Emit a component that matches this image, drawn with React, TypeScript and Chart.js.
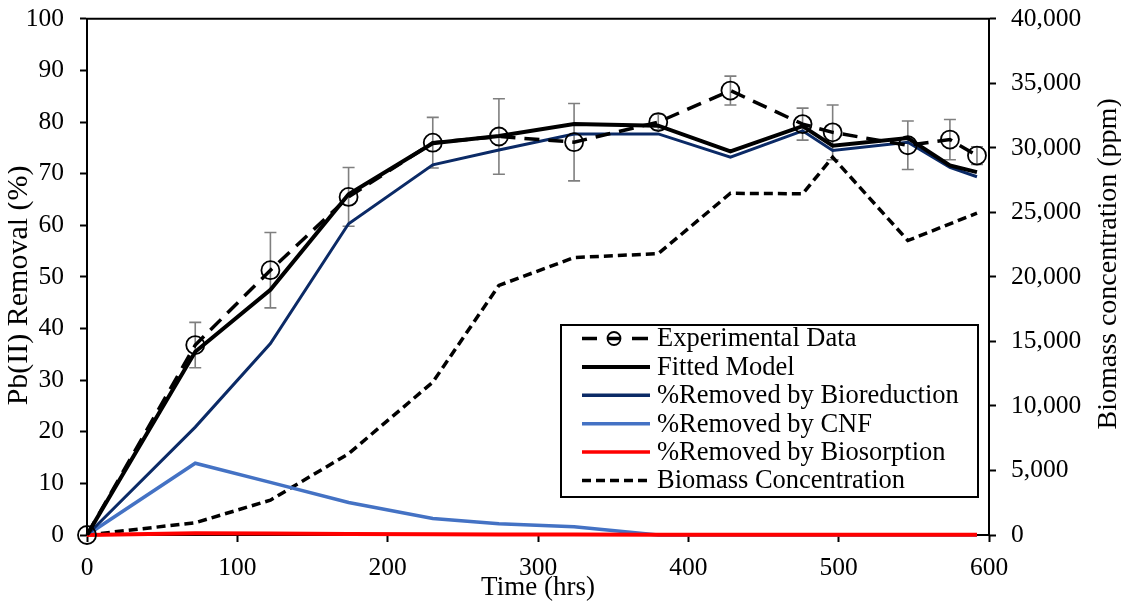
import React, { useEffect, useRef } from "react";
import { Chart, registerables } from "chart.js";

Chart.register(...registerables);

// ---- data ----
const times = [0, 72, 122, 174, 230, 274, 324, 380, 428, 476, 496, 546, 574, 592];
const experimental = [0, 36.8, 51.3, 65.5, 76.0, 77.2, 76.1, 80.0, 86.1, 79.6, 78.0, 75.5, 76.6, 73.5];
const experimentalError = [0, 4.4, 7.3, 5.7, 4.9, 7.3, 7.5, 1.5, 2.8, 3.1, 5.3, 4.7, 3.9, 1.7];
const fittedModel = [0, 35.5, 47.5, 66.0, 75.9, 77.3, 79.6, 79.3, 74.3, 79.2, 75.4, 76.9, 71.6, 70.3];
const bioreduction = [0, 20.9, 37.1, 60.3, 71.7, 74.6, 77.7, 77.7, 73.2, 78.3, 74.5, 76.1, 71.2, 69.4];
const cnf = [0, 13.9, 10.2, 6.3, 3.2, 2.2, 1.6, 0, 0, 0, 0, 0, 0, 0];
const biosorption = [0, 0.35, 0.3, 0.2, 0.15, 0.1, 0.1, 0.05, 0.05, 0.05, 0.05, 0.05, 0.05, 0.05];
const biomassTimes = [0, 72, 122, 174, 230, 274, 324, 380, 428, 476, 496, 546, 592];
const biomass = [0, 950, 2700, 6300, 11840, 19340, 21500, 21800, 26480, 26440, 29270, 22820, 24940];

const legendLabels = [
  "Experimental Data",
  "Fitted Model",
  "%Removed by Bioreduction",
  "%Removed by CNF",
  "%Removed by Biosorption",
  "Biomass Concentration",
];
const xTitle = "Time (hrs)";
const yTitle = "Pb(II) Removal (%)";
const y1Title = "Biomass concentration (ppm)";

const FONT_FAMILY = '"Liberation Serif", "Times New Roman", serif';
const NAVY = "#0B2A66";
const LIGHT_BLUE = "#4472C4";
const RED = "#FF0000";

const pts = (xs: number[], ys: number[]) => xs.map((x, i) => ({ x, y: ys[i] }));

const errorBarPlugin = {
  id: "errorBars",
  beforeDatasetsDraw(chart: any) {
    const { ctx } = chart;
    const xs = chart.scales.x;
    const ys = chart.scales.y;
    ctx.save();
    ctx.strokeStyle = "#7F7F7F";
    ctx.lineWidth = 1.6;
    times.forEach((t, i) => {
      const e = experimentalError[i];
      if (!e) return;
      const x = xs.getPixelForValue(t);
      const yt = ys.getPixelForValue(experimental[i] + e);
      const yb = ys.getPixelForValue(experimental[i] - e);
      ctx.beginPath();
      ctx.moveTo(x, yt);
      ctx.lineTo(x, yb);
      ctx.moveTo(x - 6, yt);
      ctx.lineTo(x + 6, yt);
      ctx.moveTo(x - 6, yb);
      ctx.lineTo(x + 6, yb);
      ctx.stroke();
    });
    ctx.restore();
  },
};

const framePlugin = {
  id: "frame",
  afterDraw(chart: any) {
    const { ctx, chartArea } = chart;
    ctx.save();
    // top border
    ctx.strokeStyle = "#000";
    ctx.lineWidth = 2;
    ctx.beginPath();
    ctx.moveTo(chartArea.left - 1, chartArea.top);
    ctx.lineTo(chartArea.right + 1, chartArea.top);
    ctx.stroke();

    // vertical axis titles (both read bottom-to-top)
    ctx.fillStyle = "#000";
    ctx.textAlign = "center";
    ctx.textBaseline = "middle";
    const cy = (chartArea.top + chartArea.bottom) / 2;
    ctx.save();
    ctx.font = `30px ${FONT_FAMILY}`;
    ctx.translate(11, cy + 8.5);
    ctx.rotate(-Math.PI / 2);
    ctx.fillText(yTitle, 0, 0);
    ctx.restore();
    ctx.save();
    ctx.font = `28px ${FONT_FAMILY}`;
    ctx.translate(chart.width - 12.5, cy - 13);
    ctx.rotate(-Math.PI / 2);
    ctx.fillText(y1Title, 0, 0);
    ctx.restore();

    // legend
    const right = chartArea.right - 11;
    const bottom = chartArea.bottom - 38;
    const left = right - 417;
    const top = bottom - 172;
    ctx.fillStyle = "#fff";
    ctx.fillRect(left, top, right - left, bottom - top);
    ctx.strokeStyle = "#000";
    ctx.lineWidth = 2;
    ctx.strokeRect(left, top, right - left, bottom - top);

    const lx0 = left + 21;
    const lx1 = left + 89;
    const tx = left + 96;
    const step = 28.4;
    const y0 = top + 13.5;
    ctx.font = `26.5px ${FONT_FAMILY}`;
    ctx.textAlign = "left";
    ctx.textBaseline = "middle";
    legendLabels.forEach((label, i) => {
      const y = y0 + i * step;
      ctx.save();
      ctx.lineCap = "butt";
      if (i === 0) {
        ctx.strokeStyle = "#000";
        ctx.lineWidth = 3.5;
        ctx.beginPath();
        ctx.moveTo(lx0, y);
        ctx.lineTo(lx0 + 15, y);
        ctx.moveTo(lx0 + 26, y);
        ctx.lineTo(lx0 + 38, y);
        ctx.moveTo(lx0 + 50, y);
        ctx.lineTo(lx1 - 2, y);
        ctx.stroke();
        ctx.lineWidth = 1.8;
        ctx.beginPath();
        ctx.arc(lx0 + 32, y, 6.5, 0, Math.PI * 2);
        ctx.stroke();
      } else {
        const colors = ["", "#000", NAVY, LIGHT_BLUE, RED, "#000"];
        ctx.strokeStyle = colors[i];
        ctx.lineWidth = i === 1 ? 4 : 3.5;
        if (i === 5) ctx.setLineDash([9, 5]);
        ctx.beginPath();
        ctx.moveTo(lx0, y);
        ctx.lineTo(lx1, y);
        ctx.stroke();
      }
      ctx.restore();
      ctx.fillStyle = "#000";
      ctx.fillText(label, tx, y + 1);
    });
    ctx.restore();
  },
};

export default function App() {
  const canvasRef = useRef<HTMLCanvasElement | null>(null);

  useEffect(() => {
    if (!canvasRef.current) return;
    const tickFont = { family: FONT_FAMILY, size: 25.5, lineHeight: 0.8 };
    const gridCommon = {
      display: true,
      drawOnChartArea: false,
      drawTicks: true,
      tickLength: 7,
      tickColor: "#000",
      tickWidth: 2,
    };
    const borderCommon = { display: true, color: "#000", width: 2 };
    const fitVertical = (w: number) => (s: any) => {
      s.width = w;
      s.paddingTop = 0;
      s.paddingBottom = 0;
    };

    const chart = new Chart(canvasRef.current, {
      type: "line",
      data: {
        datasets: [
          {
            label: legendLabels[0],
            data: pts(times, experimental),
            yAxisID: "y",
            borderColor: "#000",
            borderWidth: 3.5,
            borderDash: [15, 9],
            pointRadius: 9,
            pointBorderWidth: 1.8,
            pointBorderColor: "#000",
            pointBackgroundColor: "rgba(0,0,0,0)",
            clip: false,
            order: 0,
          },
          {
            label: legendLabels[1],
            data: pts(times, fittedModel),
            yAxisID: "y",
            borderColor: "#000",
            borderWidth: 4,
            pointRadius: 0,
            order: 1,
          },
          {
            label: legendLabels[2],
            data: pts(times, bioreduction),
            yAxisID: "y",
            borderColor: NAVY,
            borderWidth: 3,
            pointRadius: 0,
            order: 2,
          },
          {
            label: legendLabels[3],
            data: pts(times, cnf),
            yAxisID: "y",
            borderColor: LIGHT_BLUE,
            borderWidth: 3.5,
            pointRadius: 0,
            clip: false,
            order: 4,
          },
          {
            label: legendLabels[4],
            data: pts(times, biosorption),
            yAxisID: "y",
            borderColor: RED,
            borderWidth: 4,
            pointRadius: 0,
            clip: false,
            order: 3,
          },
          {
            label: legendLabels[5],
            data: pts(biomassTimes, biomass),
            yAxisID: "y1",
            borderColor: "#000",
            borderWidth: 3.5,
            borderDash: [9, 5],
            pointRadius: 0,
            order: 5,
          },
        ],
      },
      options: {
        animation: false,
        responsive: true,
        maintainAspectRatio: false,
        layout: { padding: { top: 10, left: 0, right: 0, bottom: 0 } },
        plugins: {
          legend: { display: false },
          tooltip: { enabled: false },
        },
        elements: { line: { tension: 0 } },
        scales: {
          x: {
            type: "linear",
            position: "bottom",
            min: 0,
            max: 600,
            ticks: {
              stepSize: 100,
              color: "#000",
              padding: 11,
              font: { family: FONT_FAMILY, size: 25.5, lineHeight: 1.2 },
            },
            grid: gridCommon,
            border: borderCommon,
            title: {
              display: true,
              text: xTitle,
              color: "#000",
              font: { family: FONT_FAMILY, size: 27, lineHeight: 1.2 },
              padding: { top: 0, bottom: -2 },
            },
            afterFit: (s: any) => {
              s.height = 67;
              s.paddingLeft = 0;
              s.paddingRight = 0;
            },
          },
          y: {
            type: "linear",
            position: "left",
            min: 0,
            max: 100,
            ticks: { stepSize: 10, color: "#000", padding: 16, font: tickFont },
            grid: gridCommon,
            border: borderCommon,
            afterFit: fitVertical(79),
          },
          y1: {
            type: "linear",
            position: "right",
            min: 0,
            max: 40000,
            ticks: {
              stepSize: 5000,
              color: "#000",
              padding: 15,
              font: tickFont,
              callback: (v: any) => Number(v).toLocaleString("en-US"),
            },
            grid: gridCommon,
            border: borderCommon,
            afterFit: fitVertical(132),
          },
        },
      },
      plugins: [errorBarPlugin, framePlugin],
    });
    return () => chart.destroy();
  }, []);

  return (
    <div style={{ position: "relative", width: 1113, height: 594 }}>
      <canvas ref={canvasRef} />
    </div>
  );
}
